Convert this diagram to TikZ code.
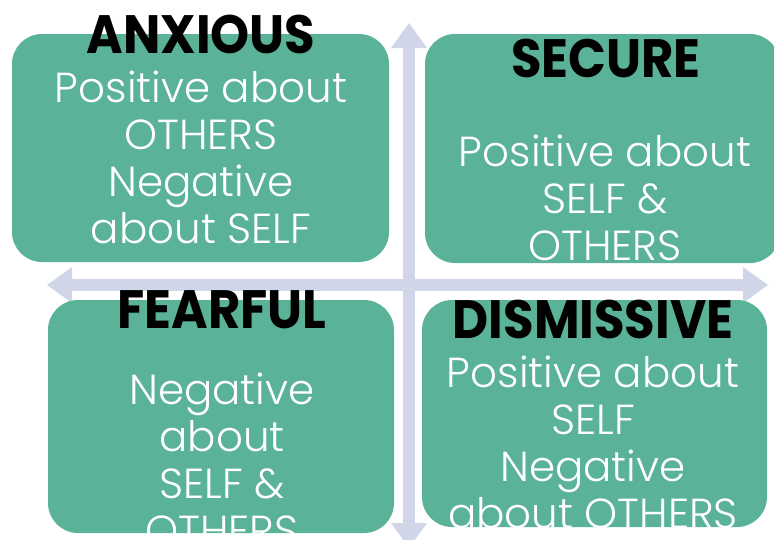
\documentclass[tikz,border=0pt]{standalone}
\usepackage{fontspec}
\setmainfont{Poppins}
\newfontfamily\bodyfont{Poppins Light}
\newfontfamily\headfont{Poppins Bold}
\usetikzlibrary{arrows.meta}
\definecolor{boxgreen}{RGB}{90,178,153}
\definecolor{axiscol}{RGB}{208,214,232}
\newcommand{\headtxt}[1]{\scalebox{0.92}[1]{#1}}
\begin{document}
\begin{tikzpicture}[x=1pt,y=-1pt,
  quad/.style={fill=boxgreen, rounded corners=30pt, inner sep=0pt},
  body/.style={font=\bodyfont\fontsize{42}{47}\selectfont, text=white, align=center, anchor=base, inner sep=0pt},
  head/.style={font=\headfont\fontsize{54}{54}\selectfont, text=black, anchor=base, inner sep=0pt},
  axis/.style={draw=axiscol, line width=12pt, {Triangle[width=36pt,length=25pt,line width=0pt]}-{Triangle[width=36pt,length=25pt,line width=0pt]}}]
\useasboundingbox (0,0) rectangle (774,539);
% axes
\coordinate (vtop) at (409,23);
\coordinate (vbot) at (409,548);
\coordinate (hleft) at (47,285);
\coordinate (hright) at (768,285);
\draw[axis] (vbot) -- (vtop);
\draw[axis] (hleft) -- (hright);
% boxes
\path[quad] (12,34) rectangle (389,262);
\path[quad] (425,34) rectangle (780,263);
\path[quad] (48,300) rectangle (394,533);
\path[quad] (422,300) rectangle (767,527);
% body texts (base = last line)
\node[body] (anxtxt) at (201,243) {Positive about\\OTHERS\\Negative\\about SELF};
\node[body] (sectxt) at (605,260) {Positive about\\SELF \&\\OTHERS};
\begin{scope}
  \clip[rounded corners=30pt] (48,300) rectangle (394,533);
  \node[body] (featxt) at (222,545) {Negative\\about\\SELF \&\\OTHERS};
\end{scope}
\begin{scope}
  \clip[rounded corners=30pt] (422,300) rectangle (767,527);
  \node[body] (distxt) at (593,528) {Positive about\\SELF\\Negative\\about OTHERS};
\end{scope}
% titles
\node[head] (anx) at (201,53) {\headtxt{ANXIOUS}};
\node[head] (sec) at (606,77) {\headtxt{SECURE}};
\node[head] (fea) at (222,328) {\headtxt{FEARFUL}};
\node[head] (dis) at (593,338) {\headtxt{DISMISSIVE}};
\end{tikzpicture}
\end{document}
